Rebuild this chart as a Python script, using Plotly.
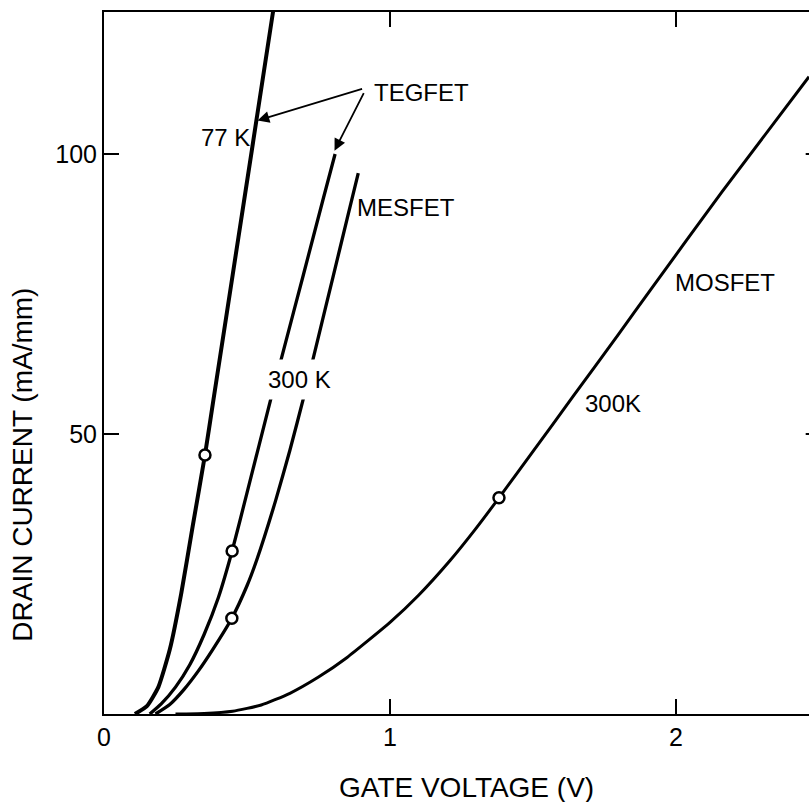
import plotly.graph_objects as go

# ---- data ----
tegfet77_x = [0.108, 0.15, 0.19, 0.23, 0.27, 0.31, 0.353, 0.382, 0.43, 0.47, 0.517, 0.591]
tegfet77_y = [0, 1.4, 4.8, 11.5, 21.5, 33.5, 46.25, 55.9, 71.8, 85.1, 100.7, 125.4]

tegfet300_x = [0.16, 0.20, 0.25, 0.30, 0.35, 0.40, 0.448, 0.50, 0.586, 0.627, 0.697, 0.767, 0.808]
tegfet300_y = [0, 1.8, 4.8, 8.8, 14.2, 20.8, 29.1, 39.5, 56.8, 64.8, 78.4, 92.1, 100]

mesfet_x = [0.18, 0.23, 0.28, 0.33, 0.38, 0.447, 0.50, 0.534, 0.60, 0.65, 0.70, 0.75, 0.80, 0.85, 0.889]
mesfet_y = [0, 1.7, 4.4, 7.7, 11.5, 17.1, 22.9, 27.5, 38.1, 47.1, 56.9, 67.4, 77.9, 88.4, 96.6]

mosfet_x = [0.25, 0.35, 0.45, 0.55, 0.65, 0.75, 0.85, 1.0, 1.1, 1.21, 1.3, 1.381, 1.5, 1.64, 1.8, 1.909, 2.16, 2.465]
mosfet_y = [0, 0.1, 0.5, 1.6, 3.7, 6.6, 10.1, 16.35, 21.2, 27.4, 33.1, 38.6, 46.9, 56.7, 67.9, 75.6, 93.2, 113.8]

circle_x = [0.353, 0.448, 0.447, 1.381]
circle_y = [46.25, 29.1, 17.1, 38.6]

x_ticks = [0, 1, 2]
x_ticklabels = ["0", "1", "2"]
y_ticks = [50, 100]
y_ticklabels = ["50", "100"]

FONT = "Liberation Sans, Arial, Helvetica, sans-serif"

fig = go.Figure()

def curve(x, y, w):
    fig.add_trace(go.Scatter(x=x, y=y, mode="lines",
                             line=dict(color="black", width=w, shape="spline", smoothing=0.5),
                             showlegend=False, hoverinfo="skip"))

curve(tegfet77_x, tegfet77_y, 4)
curve(tegfet300_x, tegfet300_y, 3.3)
curve(mesfet_x, mesfet_y, 3.3)
curve(mosfet_x, mosfet_y, 3)

fig.add_trace(go.Scatter(x=circle_x, y=circle_y, mode="markers",
                         marker=dict(symbol="circle", size=11, color="white",
                                     line=dict(color="black", width=2.5)),
                         showlegend=False, hoverinfo="skip"))

def label(text, x, y, xanchor="center", bg=None, pad=1):
    fig.add_annotation(x=x, y=y, text=text, showarrow=False, xanchor=xanchor,
                       yanchor="middle", font=dict(family=FONT, size=24, color="black"),
                       bgcolor=bg, borderpad=pad)

label("TEGFET", 0.937, 110.9, xanchor="left")
label("77 K", 0.425, 102.9)
label("MESFET", 0.878, 90.5, xanchor="left")
label("300 K", 0.685, 59.8, bg="white", pad=6)
label("MOSFET", 1.99, 77.1, xanchor="left")
label("300K", 1.675, 55.4, xanchor="left")

# arrows from TEGFET label
for tip_x, tip_y, ax, ay in [(0.537, 106.0, 106, -32), (0.806, 100.6, 30, -59)]:
    fig.add_annotation(x=tip_x, y=tip_y, ax=ax, ay=ay, text="", showarrow=True,
                       arrowhead=2, arrowsize=1.3, arrowwidth=1.8, arrowcolor="black")

# axis titles
fig.add_annotation(x=0.514, y=-0.104, xref="paper", yref="paper", text="GATE VOLTAGE (V)",
                   showarrow=False, font=dict(family=FONT, size=28, color="black"),
                   xanchor="center", yanchor="middle")
fig.add_annotation(x=-0.115, y=0.355, xref="paper", yref="paper", text="DRAIN CURRENT (mA/mm)",
                   showarrow=False, textangle=-90, font=dict(family=FONT, size=28, color="black"),
                   xanchor="center", yanchor="middle")

# right-side tick stubs
for yv in y_ticks:
    fig.add_shape(type="line", xref="paper", yref="y", x0=0.9953, x1=1.0, y0=yv, y1=yv,
                  line=dict(color="black", width=2))

fig.update_layout(
    width=809, height=802,
    margin=dict(l=104, r=0, t=12, b=88),
    paper_bgcolor="white", plot_bgcolor="white",
    font=dict(family=FONT, color="black"),
    xaxis=dict(range=[0, 2.465], tickvals=x_ticks, ticktext=x_ticklabels,
               ticks="inside", ticklen=15, tickwidth=2, tickcolor="black",
               showline=True, linecolor="black", linewidth=2, mirror="ticks",
               showgrid=False, zeroline=False,
               tickfont=dict(family=FONT, size=25, color="black")),
    yaxis=dict(range=[0, 125.36], tickvals=y_ticks, ticktext=y_ticklabels,
               ticks="inside", ticklen=15, tickwidth=2, tickcolor="black",
               showline=True, linecolor="black", linewidth=2, mirror=False,
               showgrid=False, zeroline=False,
               tickfont=dict(family=FONT, size=25, color="black")),
)

fig.write_html("out.html")
